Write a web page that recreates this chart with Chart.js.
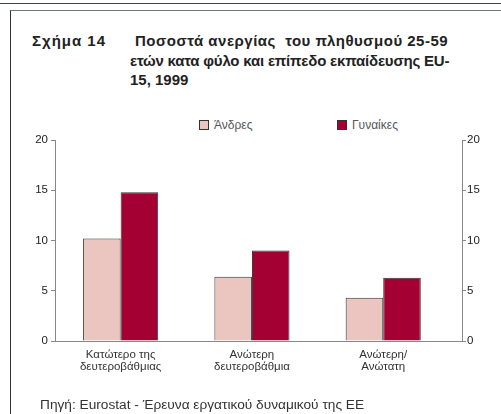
<!DOCTYPE html>
<html>
<head>
<meta charset="utf-8">
<script src="https://cdn.jsdelivr.net/npm/chart.js@4.4.1/dist/chart.umd.min.js"></script>
<style>
    body { margin: 0; background: #fff; font-family: "Liberation Sans", Arial, sans-serif; }
    #page { position: relative; width: 501px; height: 414px; overflow: hidden; background: #fff; }
    #topline { position: absolute; left: 0; top: 3px; width: 501px; height: 1px; background: #a0153e; }
    #frame { position: absolute; left: 10px; top: 10px; width: 600px; height: 500px;
             border-left: 1px solid #333; border-top: 1px solid #777; }
    .title { position: absolute; font-weight: bold; font-size: 15px; color: #222; line-height: 19.5px; white-space: nowrap; }
    #fig { left: 32px; top: 31px; letter-spacing: 1px; }
    #ttl { left: 130px; top: 31px; }
    #ttl .l1 { letter-spacing: 0.5px; margin-left: 5px; }
    #ttl .l2 { letter-spacing: -0.2px; }
    #legend { position: absolute; top: 118px; left: 0; width: 501px; font-size: 12px; color: #555; }
    .item { position: absolute; display: flex; align-items: center; }
    .box { width: 8px; height: 8px; border: 1px solid #333; margin-right: 5px; }
    #source { position: absolute; left: 40px; top: 397px; font-size: 13.7px; color: #333; }
    canvas { position: absolute; left: 0; top: 0; }
</style>
</head>
<body>
<div id="page">
    <div id="topline"></div>
    <div id="frame"></div>
    <div class="title" id="fig">Σχήμα 14</div>
    <div class="title" id="ttl"><span class="l1">Ποσοστά ανεργίας&nbsp; του πληθυσμού 25-59</span><br><span class="l2">ετών κατα φύλο και επίπεδο εκπαίδευσης EU-</span><br>15, 1999</div>
    <div id="legend"></div>
    <canvas id="chart" width="501" height="414"></canvas>
    <div id="source">Πηγή: Eurostat - Έρευνα εργατικού δυναμικού της ΕΕ</div>
</div>
<script>
// ===== DATA =====
const categories = [
    ['Κατώτερο της', 'δευτεροβάθμιας'],
    ['Ανώτερη', 'δευτεροβάθμια'],
    ['Ανώτερη/', 'Ανώτατη']
];
const seriesNames = ['Άνδρες', 'Γυναίκες'];
const men = [10.2, 6.4, 4.3];
const women = [14.8, 9.0, 6.3];
const yTicks = [0, 5, 10, 15, 20];

const colors = ['#ebc5bf', '#a50034'];
const textColor = '#222';
const axisColor = '#888';

// legend drawn in html
const legend = document.getElementById('legend');
const legendX = [199, 337];
seriesNames.forEach((name, i) => {
    const item = document.createElement('div');
    item.className = 'item';
    item.style.left = legendX[i] + 'px';
    item.innerHTML = '<span class="box" style="background:' + colors[i] + '"></span>' + name;
    legend.appendChild(item);
});

function makeSet(label, data, color) {
    return {
        label: label,
        data: data.map((v, i) => ({ x: i, y: v })),
        backgroundColor: color,
        borderColor: '#333',
        borderWidth: 1,
        categoryPercentage: 0.572,
        barPercentage: 1
    };
}

function yAxis(position) {
    return {
        position: position,
        min: 0,
        max: 20,
        afterBuildTicks: (scale) => { scale.ticks = yTicks.map(v => ({ value: v })); },
        afterFit: (scale) => { scale.width = 30; },
        ticks: {
            color: textColor,
            font: { family: 'Liberation Sans', size: 11.5 },
            padding: position === 'left' ? 3 : 1
        },
        grid: {
            drawOnChartArea: false,
            drawTicks: true,
            tickLength: 4,
            color: axisColor
        },
        border: { display: true, color: axisColor, width: 1 }
    };
}

const ctx = document.getElementById('chart');
new Chart(ctx, {
    type: 'bar',
    data: {
        datasets: [
            makeSet(seriesNames[0], men, colors[0]),
            makeSet(seriesNames[1], women, colors[1])
        ]
    },
    options: {
        responsive: false,
        animation: false,
        layout: { padding: { left: 25, right: 9, top: 140, bottom: 38 } },
        plugins: {
            legend: { display: false },
            tooltip: { enabled: false }
        },
        scales: {
            x: {
                type: 'linear',
                offset: false,
                min: -0.5,
                max: 2.6,
                afterBuildTicks: (scale) => { scale.ticks = categories.map((c, i) => ({ value: i })); },
                afterFit: (scale) => { scale.height = 35; },
                ticks: {
                    autoSkip: false,
                    maxRotation: 0,
                    padding: 0,
                    color: '#333',
                    font: { family: 'Liberation Sans', size: 11.5, lineHeight: 1.05 },
                    callback: (v) => categories[v]
                },
                grid: { display: false },
                border: { display: true, color: axisColor, width: 1 }
            },
            y: yAxis('left'),
            y2: yAxis('right')
        }
    }
});
</script>
</body>
</html>
